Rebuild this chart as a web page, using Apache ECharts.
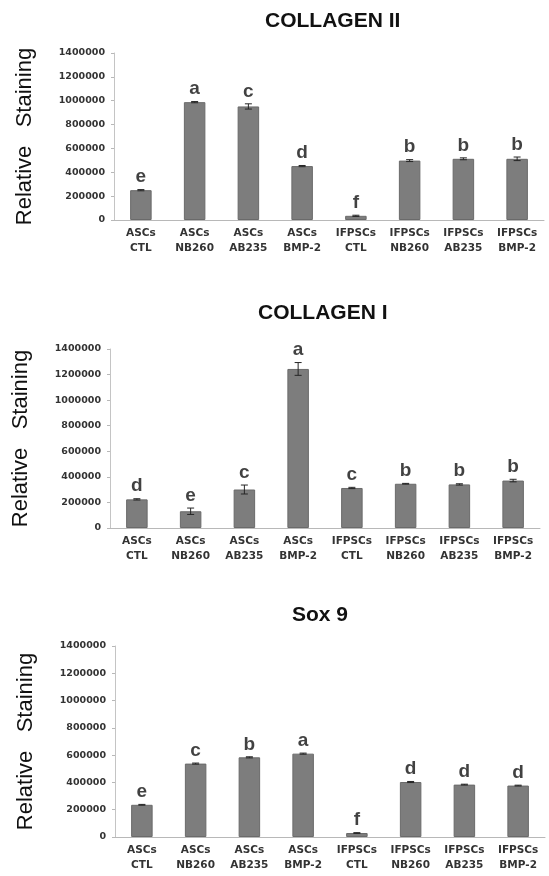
<!DOCTYPE html>
<html>
<head>
<meta charset="utf-8">
<script src="https://cdn.jsdelivr.net/npm/echarts@6/dist/echarts.min.js"></script>
<style>
  html, body { margin: 0; padding: 0; background: #ffffff; }
  #chart { width: 549px; height: 876px; }
</style>
</head>
<body>
<div id="chart"></div>
<script>
// ---- data ----
var categories = ['ASCs\nCTL', 'ASCs\nNB260', 'ASCs\nAB235', 'ASCs\nBMP-2',
                  'IFPSCs\nCTL', 'IFPSCs\nNB260', 'IFPSCs\nAB235', 'IFPSCs\nBMP-2'];
var yTicks = [0, 200000, 400000, 600000, 800000, 1000000, 1200000, 1400000];
var panelTitles = ['COLLAGEN II', 'COLLAGEN I', 'Sox 9'];
var yAxisTitle = 'Relative   Staining';

var collagen2Values = [250000, 988000, 952000, 452000, 35000, 498000, 513000, 513000];
var collagen2Errors = [5000, 5000, 22000, 5000, 5000, 8000, 8000, 15000];
var collagen2Letters = ['e', 'a', 'c', 'd', 'f', 'b', 'b', 'b'];

var collagen1Values = [224000, 131000, 301000, 1244000, 313000, 346000, 341000, 371000];
var collagen1Errors = [5000, 25000, 35000, 50000, 5000, 3000, 5000, 10000];
var collagen1Letters = ['d', 'e', 'c', 'a', 'c', 'b', 'b', 'b'];

var sox9Values = [236000, 538000, 584000, 611000, 29000, 403000, 384000, 377000];
var sox9Errors = [3000, 4000, 4000, 4000, 3000, 4000, 3000, 3000];
var sox9Letters = ['e', 'c', 'b', 'a', 'f', 'd', 'd', 'd'];

var panels = [
  { values: collagen2Values, errors: collagen2Errors, letters: collagen2Letters },
  { values: collagen1Values, errors: collagen1Errors, letters: collagen1Letters },
  { values: sox9Values, errors: sox9Errors, letters: sox9Letters }
];

// ---- layout (positions/styles only) ----
var grids = [
  { left: 114, top: 53, right: 5, height: 167 },
  { left: 110, top: 349, right: 9, height: 179 },
  { left: 115, top: 646, right: 4, height: 191 }
];
var titlePos = [
  { left: 265, top: 11 },
  { left: 258, top: 303 },
  { left: 292, top: 605 }
];

var chart = echarts.init(document.getElementById('chart'));

function errRender(params, api) {
  var x = api.value(0), v = api.value(1), e = api.value(2);
  var top = api.coord([x, v + e]);
  var bot = api.coord([x, v - e]);
  var cw = 3.5;
  var st = { stroke: '#262626', lineWidth: 1 };
  return {
    type: 'group',
    children: [
      { type: 'line', shape: { x1: top[0], y1: top[1], x2: bot[0], y2: bot[1] }, style: st },
      { type: 'line', shape: { x1: top[0] - cw, y1: top[1], x2: top[0] + cw, y2: top[1] }, style: st },
      { type: 'line', shape: { x1: bot[0] - cw, y1: bot[1], x2: bot[0] + cw, y2: bot[1] }, style: st }
    ]
  };
}

var option = {
  backgroundColor: '#ffffff',
  animation: false,
  title: panelTitles.map(function (t, i) {
    return {
      text: t, left: titlePos[i].left, top: titlePos[i].top, padding: 0,
      textStyle: { fontFamily: 'Liberation Sans', fontWeight: 'bold', fontSize: 21, color: '#111' }
    };
  }),
  grid: grids,
  xAxis: grids.map(function (g, i) {
    return {
      type: 'category', gridIndex: i, data: categories,
      axisLine: { lineStyle: { color: '#b8b8b8', width: 1 } },
      axisTick: { show: false },
      axisLabel: {
        interval: 0, margin: 6, lineHeight: 15,
        fontFamily: 'DejaVu Sans', fontWeight: 'bold', fontSize: 10.5, color: '#333333'
      },
      splitLine: { show: false }
    };
  }),
  yAxis: grids.map(function (g, i) {
    return {
      type: 'value', gridIndex: i, min: yTicks[0], max: yTicks[yTicks.length - 1],
      interval: yTicks[1] - yTicks[0],
      name: yAxisTitle, nameLocation: 'middle', nameRotate: 90, nameGap: 78,
      nameTextStyle: { fontFamily: 'Liberation Sans', fontSize: 22, color: '#111' },
      axisLine: { show: true, lineStyle: { color: '#c4c4c4', width: 1 } },
      axisTick: { show: true, length: 3, lineStyle: { color: '#b8b8b8' } },
      axisLabel: {
        margin: 9, fontFamily: 'DejaVu Sans', fontWeight: 'bold', fontSize: 9.5, color: '#333333',
        formatter: function (v) { return String(v); }
      },
      splitLine: { show: false }
    };
  }),
  series: []
};

panels.forEach(function (p, i) {
  option.series.push({
    type: 'bar', xAxisIndex: i, yAxisIndex: i, data: p.values, barWidth: 21.5,
    itemStyle: { color: '#7d7d7d', borderColor: '#6a6a6a', borderWidth: 1 }
  });
  option.series.push({
    type: 'custom', xAxisIndex: i, yAxisIndex: i, renderItem: errRender, z: 5,
    data: p.values.map(function (v, k) { return [k, v, p.errors[k]]; })
  });
  option.series.push({
    type: 'scatter', xAxisIndex: i, yAxisIndex: i, symbolSize: 0, silent: true,
    data: p.values.map(function (v, k) { return [k, v + p.errors[k]]; }),
    label: {
      show: true, position: 'top', distance: 3,
      formatter: function (d) { return p.letters[d.dataIndex]; },
      fontFamily: 'Liberation Sans', fontWeight: 'bold', fontSize: 19, color: '#111'
    }
  });
});

chart.setOption(option);
</script>
</body>
</html>
